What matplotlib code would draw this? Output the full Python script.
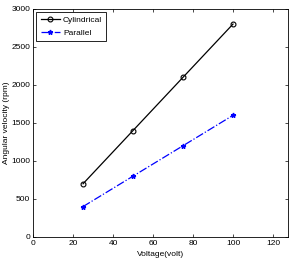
import matplotlib
matplotlib.use("Agg")
import matplotlib.pyplot as plt

voltage = [25, 50, 75, 100]
cylindrical = [700, 1400, 2100, 2800]
parallel = [400, 800, 1200, 1600]

plt.rcParams["font.family"] = ["Liberation Sans", "DejaVu Sans"]
plt.rcParams["font.size"] = 6

fig = plt.figure(figsize=(2.9, 2.61), dpi=100)
ax = fig.add_axes([0.114, 0.092, 0.879, 0.874])

ax.plot(voltage, cylindrical, "k-o", lw=0.9, ms=3.5, mfc="none", mew=0.8, label="Cylindrical")
ax.plot(voltage, parallel, "b-.*", lw=0.9, ms=3.5, label="Parallel")

ax.set_xlim(0, 127.5)
ax.set_ylim(0, 3000)
ax.set_xticks([0, 20, 40, 60, 80, 100, 120])
ax.set_yticks([0, 500, 1000, 1500, 2000, 2500, 3000])
ax.tick_params(direction="in", top=True, right=True, length=2.5, width=0.5, pad=2)
for s in ax.spines.values():
    s.set_linewidth(0.6)

ax.set_xlabel("Voltage(volt)", labelpad=3)
ax.set_ylabel("Angular velocity (rpm)", labelpad=1)

leg = ax.legend(loc="upper left", fancybox=False, edgecolor="k", framealpha=1,
                handlelength=2.3, handletextpad=0.4, borderpad=0.5,
                labelspacing=0.6, borderaxespad=0.4)
leg.get_frame().set_linewidth(0.6)

fig.savefig("out.png", dpi=100)
